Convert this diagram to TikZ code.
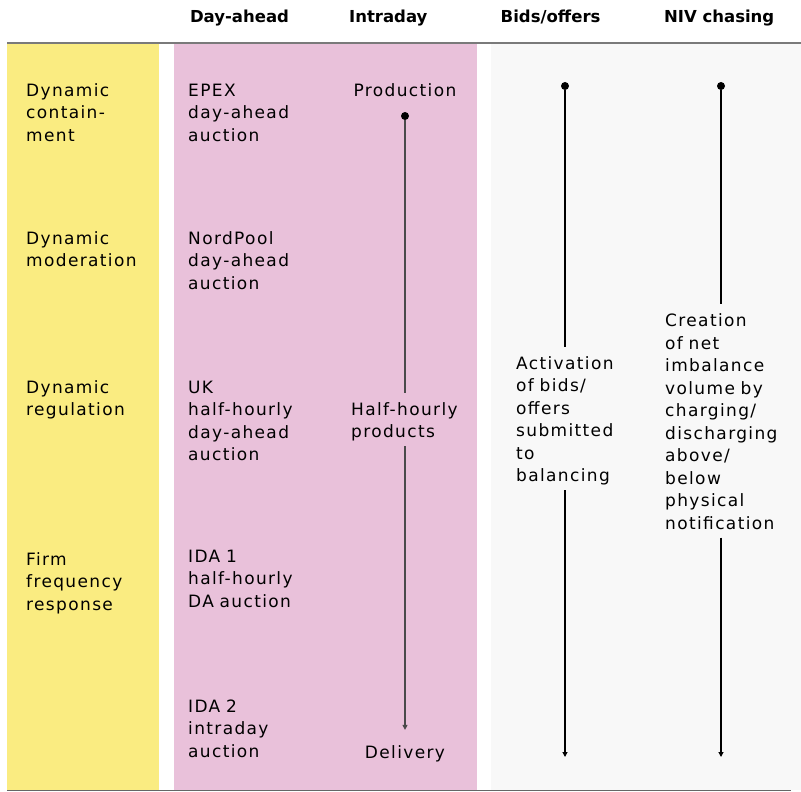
\documentclass[tikz,border=0pt]{standalone}
\usepackage{fontspec}
\usetikzlibrary{arrows.meta}
\newfontfamily\bodyf{DejaVu Sans}[LetterSpace=8]
\newfontfamily\headf{DejaVu Sans}
\definecolor{ylw}{HTML}{FAEC81}
\definecolor{pnk}{HTML}{E9C1DA}
\definecolor{gry}{HTML}{F8F8F8}
\definecolor{rulec}{HTML}{7A7A7A}
\definecolor{rulecb}{HTML}{666666}
\definecolor{lnint}{HTML}{4A4A4A}
\newcommand\tstr{\rule{0pt}{19pt}}
\newcommand\bstr{\rule[-5.5pt]{0pt}{5.5pt}}
\begin{document}
\begin{tikzpicture}[x=1pt,y=-1pt,
  head/.style={anchor=base, inner sep=0pt, font=\headf\bfseries\fontsize{16.5}{19}\selectfont},
  body/.style={anchor=base west, align=left, text width=150pt, inner xsep=0pt, inner ysep=3pt, font=\bodyf\fontsize{17}{22.5}\selectfont},
  cbody/.style={anchor=base, inner sep=0pt, font=\bodyf\fontsize{17}{22.5}\selectfont},
  dotmark/.style={circle, fill=black, inner sep=0pt, minimum size=8pt},
  tl/.style={line width=1.1pt, draw=black},
  arr/.style={-{Triangle[length=5pt,width=5pt]}}
]
\useasboundingbox (0,0) rectangle (801,792);
% columns
\fill[ylw] (7,44) rectangle (159,790);
\fill[pnk] (174,44) rectangle (477,790);
\fill[gry] (491,44) rectangle (801,790);
\draw[rulec, line width=2pt] (7,43.5) -- (801,43.5);
\draw[rulecb, line width=1.5pt] (7,790.5) -- (791,790.5);
% headers
\node[head] (h1) at (239.5,23) {Day-ahead};
\node[head] (h2) at (388.3,23) {Intraday};
\node[head] (h3) at (550.6,23) {Bids/offers};
\node[head] (h4) at (719.2,23) {NIV chasing};
% yellow column
\node[body] (y1) at (26,96) {Dynamic\\contain-\\ment};
\node[body] (y2) at (26,244) {Dynamic\\moderation};
\node[body] (y3) at (26,393) {Dynamic\\regulation};
\node[body] (y4) at (26,565) {Firm\\frequency\\response};
% pink column
\node[body] (p1) at (188,96) {EPEX\\day-ahead\\auction};
\node[body] (p2) at (188,244) {NordPool\\day-ahead\\auction};
\node[body] (p3) at (188,393) {UK\\half-hourly\\day-ahead\\auction};
\node[body] (p4) at (188,562) {IDA 1\\half-hourly\\DA auction};
\node[body] (p5) at (188,712) {IDA 2\\intraday\\auction};
% intraday
\node[cbody] (prod) at (405,96) {Production};
\node[dotmark] (dI) at (405,116) {};
\node[body] (hh) at (351,415) {\tstr Half-hourly\\products\bstr};
\node[cbody] (del) at (405,758) {Delivery};
\draw[tl, draw=lnint] (dI) -- (dI |- hh.north);
\draw[tl, draw=lnint, arr, shorten >=15pt] (dI |- hh.south) -- (dI |- del.north);
% bids/offers
\node[dotmark] (dB) at (565,86) {};
\node[body] (act) at (516,369) {\tstr Activation\\of bids/\\offers\\submitted\\to\\balancing\bstr};
\coordinate (eB) at (565,757);
\draw[tl] (dB) -- (dB |- act.north);
\draw[tl, arr] (dB |- act.south) -- (eB);
% NIV chasing
\node[dotmark] (dN) at (721,86) {};
\node[body] (niv) at (665,326.5) {\tstr Creation\\of net\\imbalance\\volume by\\charging/\\discharging\\above/\\below\\physical\\notification\bstr};
\coordinate (eN) at (721,757);
\draw[tl] (dN) -- (dN |- niv.north);
\draw[tl, arr] (dN |- niv.south) -- (eN);
\end{tikzpicture}
\end{document}
